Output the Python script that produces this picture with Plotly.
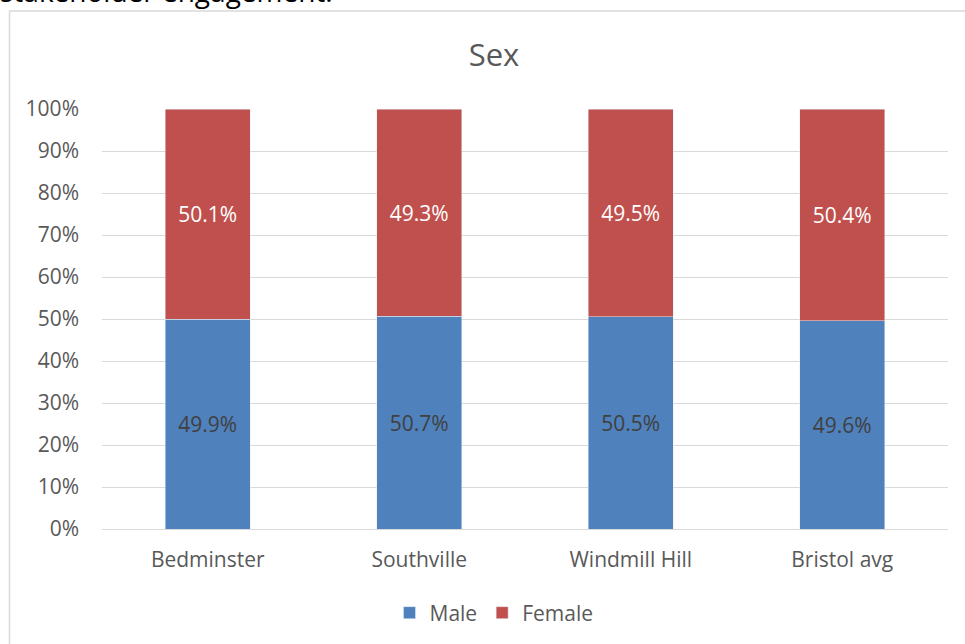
import plotly.graph_objects as go

# Ward population by sex (share of residents)
areas = ["Bedminster", "Southville", "Windmill Hill", "Bristol avg"]
male = [49.9, 50.7, 50.5, 49.6]
female = [50.1, 49.3, 49.5, 50.4]
y_ticks = list(range(0, 101, 10))
y_tick_labels = [f"{v}%" for v in y_ticks]

FONT = "Open Sans"
W, H = 965, 644
L, R, T, B = 102, 17, 109, 115
PW, PH = W - L - R, H - T - B


def px_x(px):
    return (px - L) / PW


def px_y(py):
    return (H - B - py) / PH


fig = go.Figure()
fig.add_bar(
    x=areas, y=male, name="Male", marker_color="#4f81bd",
    text=[f"{v:.1f}%" for v in male], textposition="inside",
    insidetextanchor="middle", textfont=dict(color="#404040", size=21, family=FONT),
)
fig.add_bar(
    x=areas, y=female, name="Female", marker_color="#c0504d",
    text=[f"{v:.1f}%" for v in female], textposition="inside",
    insidetextanchor="middle", textfont=dict(color="#ffffff", size=21, family=FONT),
)

fig.update_layout(
    width=W, height=H,
    barmode="stack", bargap=0.6,
    margin=dict(l=L, r=R, t=T, b=B),
    paper_bgcolor="white", plot_bgcolor="white",
    font=dict(family=FONT, color="#595959", size=21),
    uniformtext=dict(mode=False),
    title=dict(text="Sex", x=494 / W, xanchor="center", xref="container",
               y=1 - 55 / H, yanchor="middle", yref="container",
               font=dict(size=31, color="#595959", family=FONT)),
    legend=dict(orientation="h", xref="container", yref="container",
                traceorder="normal",
                x=494 / W, xanchor="center", y=1 - 613 / H, yanchor="middle",
                font=dict(size=21, color="#595959", family=FONT),
                itemwidth=30),
    xaxis=dict(showgrid=False, showline=True, linecolor="#d9d9d9", linewidth=1.3,
               ticks="", ticklabelstandoff=12, tickfont=dict(size=21, color="#595959")),
    yaxis=dict(range=[0, 100], tickvals=y_ticks, ticktext=y_tick_labels,
               showgrid=True, gridcolor="#d9d9d9", gridwidth=1.3, zeroline=False,
               ticks="", ticklabelstandoff=22, tickfont=dict(size=21, color="#595959")),
    showlegend=True,
)

# Chart frame (left and top edges)
fig.add_shape(type="line", xref="paper", yref="paper",
              x0=px_x(9.5), x1=px_x(9.5), y0=px_y(11), y1=px_y(700),
              line=dict(color="#d9d9d9", width=1.5))
fig.add_shape(type="line", xref="paper", yref="paper",
              x0=px_x(9), x1=px_x(1000), y0=px_y(11), y1=px_y(11),
              line=dict(color="#d9d9d9", width=1.5))

# Preceding document text line
fig.add_annotation(text="stakeholder engagement.", xref="paper", yref="paper",
                   x=px_x(-2), y=px_y(12), xanchor="left", yanchor="bottom",
                   showarrow=False, font=dict(size=28, color="#000000", family=FONT))

fig.write_html("out.html")
